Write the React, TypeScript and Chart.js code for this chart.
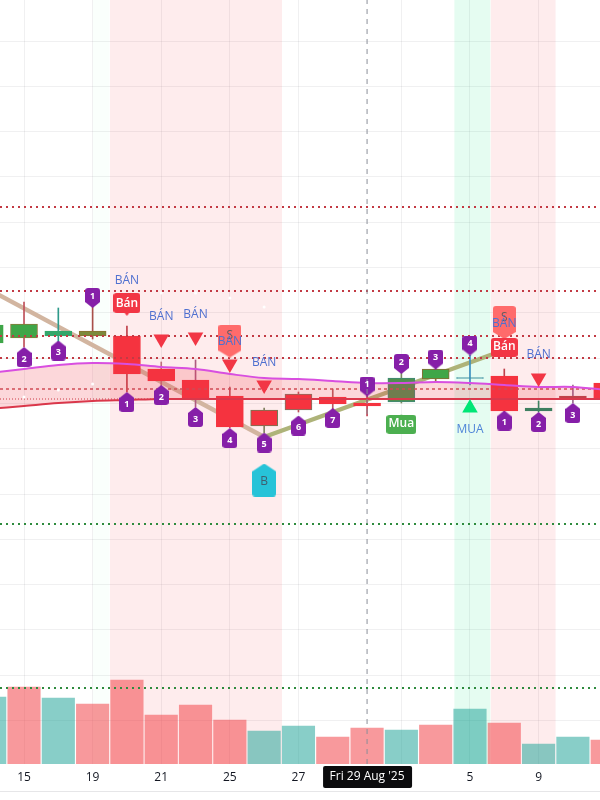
import React, { useEffect, useRef } from "react";
import { Chart, registerables } from "chart.js";

Chart.register(...registerables);

// ---- data (session index on x, price on y) ----
const sessions = [0, 1, 2, 3, 4, 5, 6, 7, 8, 9, 10, 11, 12, 13, 14, 15, 16, 17, 18];
const bodyHigh = [43.9, 44.0, 43.3, 43.3, 42.8, 39.5, 38.4, 36.8, 35.4, 37.0, 36.7, 36.1, 38.6, 39.5, 38.65, 38.8, 35.6, 36.8, 38.1];
const bodyLow = [42.1, 42.6, 42.8, 42.8, 39.0, 38.3, 36.5, 33.7, 33.8, 35.4, 36.0, 35.8, 36.2, 38.5, 38.55, 35.3, 35.3, 36.5, 36.5];
const wickHigh = [44.6, 46.2, 45.6, 45.7, 43.8, 40.2, 40.4, 37.7, 35.6, 37.2, 37.5, 36.9, 39.1, 39.7, 40.9, 39.5, 36.3, 37.9, 38.6];
const wickLow = [41.4, 41.7, 42.2, 42.5, 37.2, 37.7, 35.7, 33.6, 33.1, 35.2, 35.4, 34.8, 36.1, 38.2, 37.9, 35.2, 35.2, 36.1, 36.0];
const volume = [67, 77, 66, 60, 84, 49, 59, 44, 33, 38, 27, 36, 34, 39, 55, 41, 20, 27, 24];
const volumeUp = [true, false, true, false, false, false, false, false, true, true, false, false, true, false, true, false, true, true, false];

const emaUpper = [39.1, 39.5, 39.9, 40.1, 40.0, 39.7, 39.5, 39.0, 38.6, 38.5, 38.3, 38.1, 38.1, 38.2, 38.1, 37.9, 37.7, 37.7, 37.4];
const emaLower = [35.5, 35.8, 36.1, 36.3, 36.4, 36.5, 36.5, 36.5, 36.5, 36.5, 36.5, 36.5, 36.5, 36.5, 36.5, 36.5, 36.5, 36.5, 36.5];

const zigDownX = [0, 8];
const zigDownY = [47.4, 32.7];
const zigUpX = [8, 15];
const zigUpY = [32.7, 41.4];

const redLevels = [55.7, 47.3, 42.8, 40.6];
const dashedRedLevels = [37.5];
const thinRedLevels = [36.5];
const greenLevels = [24.0, 7.6];

const tickSessions = [1, 3, 5, 7, 9, 12, 14, 16];
const tickLabels = ["15", "19", "21", "25", "27", "", "5", "9"];
const crosshairSession = 11;
const crosshairLabel = "Fri 29 Aug '25";

const gridPrices = [72.3, 67.77, 63.24, 58.71, 54.18, 49.65, 45.12, 40.59, 36.06, 31.53, 27.0, 22.47, 17.94, 13.41, 8.88, 4.35];

const bandStart = [3, 3.5, 13.54, 14.6];
const bandEnd = [3.5, 8.52, 14.6, 16.5];
const bandColor = ["rgba(0,230,118,0.02)", "rgba(242,54,69,0.095)", "rgba(0,230,118,0.1)", "rgba(242,54,69,0.095)"];

const flagX = [1, 2, 4, 5, 6, 7, 8, 9, 10, 15, 16, 17, 3, 11, 12, 13, 14];
const flagY = [40.7, 41.35, 36.2, 36.9, 34.7, 32.6, 32.15, 33.85, 34.6, 34.35, 34.2, 35.1, 46.6, 37.75, 40.0, 40.45, 41.85];
const flagText = ["2", "3", "1", "2", "3", "4", "5", "6", "7", "1", "2", "3", "1", "1", "2", "3", "4"];
const flagPointsUp = [true, true, true, true, true, true, true, true, true, true, true, true, false, false, false, false, false];

const sellTriangleX = [5, 6, 7, 8, 16];
const sellTriangleY = [42.5, 42.7, 40.0, 37.9, 38.6];
const buyTriangleX = [14];
const buyTriangleY = [35.6];

const sellWordX = [4, 5, 6, 7, 8, 15, 16];
const sellWordY = [48.3, 44.7, 44.9, 42.2, 40.1, 44.0, 40.9];
const buyWordX = [14];
const buyWordY = [33.4];

const speckX = [5, 6, 7, 8, 3, 2, 1];
const speckY = [47.1, 47.1, 46.6, 45.7, 38.0, 37.4, 36.7];

const sBoxX = [7, 15];
const sBoxY = [42.3, 44.15];
const banBoxX = [4, 15];
const banBoxY = [45.95, 41.65];
const muaBoxX = [12];
const muaBoxY = [34.0];
const bBoxX = [8];
const bBoxY = [28.4];

// ---- styles ----
const RED = "#F5333F";
const GREEN = "#3FA648";
const bodyFill = [GREEN, GREEN, "#33A66A", "#7C8A3C", RED, RED, RED, RED, RED, RED, RED, RED, "#4F8F50", GREEN, "#3A8FA0", RED, "#3F7F60", "#B5444A", RED];
const bodyEdge = [GREEN, "#8A7A3A", "#33A66A", "#8A7030", RED, RED, RED, RED, "#6F7A55", "#777A66", RED, RED, "#3F8A78", "#8A6A30", "#3A8FA0", RED, "#3F7F60", "#B5444A", RED];
const wickColor = ["#3FA648", "#C0505A", "#2E9A8A", "#A8504A", "#C0404A", "#C0707A", "#B05A80", "#C0505A", "#808060", "#C0505A", "#B85A60", "#C04050", "#7A8A60", "#8A7030", "#3A8FC0", "#C0404A", "#3F7F60", "#9A6A90", RED];
const PRICE_MAX = 76.4;
const VOL_MAX = 764;
const X_MIN = 0.3;
const X_MAX = 17.79;

function flagShape(w: number, h: number, tip: number, color: string, up: boolean, r = 3) {
  const c = document.createElement("canvas");
  c.width = w;
  c.height = h;
  const g = c.getContext("2d")!;
  g.fillStyle = color;
  g.beginPath();
  if (up) {
    g.moveTo(w / 2, 0);
    g.lineTo(w, tip);
    g.arcTo(w, h, 0, h, r);
    g.arcTo(0, h, 0, 0, r);
    g.lineTo(0, tip);
  } else {
    g.moveTo(w / 2, h);
    g.lineTo(0, h - tip);
    g.arcTo(0, 0, w, 0, r);
    g.arcTo(w, 0, w, h, r);
    g.lineTo(w, h - tip);
  }
  g.closePath();
  g.fill();
  return c;
}

function boxPointer(w: number, h: number, tip: number, color: string, up: boolean, r = 3) {
  const c = document.createElement("canvas");
  c.width = w;
  c.height = h;
  const g = c.getContext("2d")!;
  g.fillStyle = color;
  g.beginPath();
  g.roundRect(0, up ? tip : 0, w, h - tip, r);
  g.fill();
  if (tip > 0) {
    g.beginPath();
    if (up) {
      g.moveTo(w / 2 - tip, tip + 1);
      g.lineTo(w / 2, 0);
      g.lineTo(w / 2 + tip, tip + 1);
    } else {
      g.moveTo(w / 2 - tip, h - tip - 1);
      g.lineTo(w / 2, h);
      g.lineTo(w / 2 + tip, h - tip - 1);
    }
    g.closePath();
    g.fill();
  }
  return c;
}

const zip = (xs: number[], ys: number[]) => xs.map((x, i) => ({ x, y: ys[i] }));

function level(y: number, color: string, width: number, dash: number[], order: number) {
  return {
    type: "line",
    data: [
      { x: X_MIN, y },
      { x: X_MAX, y },
    ],
    borderColor: color,
    borderWidth: width,
    borderDash: dash,
    pointRadius: 0,
    fill: false,
    order,
  };
}

function textAt(ctx: CanvasRenderingContext2D, s: string, x: number, y: number, font: string, color: string) {
  ctx.font = font;
  ctx.fillStyle = color;
  ctx.textAlign = "center";
  ctx.textBaseline = "middle";
  ctx.fillText(s, x, y);
}

const overlayText = {
  id: "overlayText",
  afterDatasetsDraw(chart: any) {
    const { ctx, scales } = chart;
    const px = (v: number) => scales.x.getPixelForValue(v);
    const py = (v: number) => scales.y.getPixelForValue(v);
    ctx.save();
    const area = chart.chartArea;
    ctx.beginPath();
    ctx.rect(area.left, area.top, area.right - area.left, area.bottom - area.top);
    ctx.clip();
    sBoxX.forEach((v, i) => textAt(ctx, "S", px(v), py(sBoxY[i]) - 5, '12px "Open Sans"', "#6a5a5a"));
    banBoxX.forEach((v, i) => textAt(ctx, "Bán", px(v), py(banBoxY[i]) - 1, '600 12px "Open Sans"', "#fff"));
    muaBoxX.forEach((v, i) => textAt(ctx, "Mua", px(v), py(muaBoxY[i]), '600 12px "Open Sans"', "#fff"));
    bBoxX.forEach((v, i) => textAt(ctx, "B", px(v), py(bBoxY[i]) + 2, '12px "Open Sans"', "#3f5f70"));
    flagX.forEach((v, i) =>
      textAt(ctx, flagText[i], px(v), py(flagY[i]) + (flagPointsUp[i] ? 2 : -2), 'bold 9px "Open Sans"', "#fff"),
    );
    sellWordX.forEach((v, i) => textAt(ctx, "BÁN", px(v), py(sellWordY[i]), '12px "Open Sans"', "#4F70D0"));
    buyWordX.forEach((v, i) => textAt(ctx, "MUA", px(v), py(buyWordY[i]), '12px "Open Sans"', "#4F85D8"));
    ctx.restore();
  },
  afterDraw(chart: any) {
    const { ctx, scales } = chart;
    const cx = scales.x.getPixelForValue(crosshairSession);
    const top = chart.chartArea.bottom + 2;
    ctx.save();
    ctx.fillStyle = "#0b0b0d";
    ctx.beginPath();
    ctx.roundRect(cx - 44, top, 89, 22, 2);
    ctx.fill();
    textAt(ctx, crosshairLabel, cx, top + 11, '12px "Open Sans"', "#fff");
    ctx.strokeStyle = "#e6e6e8";
    ctx.lineWidth = 1;
    ctx.beginPath();
    ctx.moveTo(0, 791.5);
    ctx.lineTo(600, 791.5);
    ctx.stroke();
    ctx.restore();
  },
};

export default function App() {
  const ref = useRef<HTMLCanvasElement>(null);

  useEffect(() => {
    const datasets: any[] = [];

    bandStart.forEach((s, i) => {
      datasets.push({
        type: "line",
        data: [
          { x: s, y: PRICE_MAX },
          { x: bandEnd[i], y: PRICE_MAX },
        ],
        borderWidth: 0,
        pointRadius: 0,
        fill: "origin",
        backgroundColor: bandColor[i],
        order: 100,
      });
    });

    datasets.push({
      type: "bar",
      yAxisID: "vol",
      data: zip(sessions, volume),
      backgroundColor: volumeUp.map((u) => (u ? "rgba(38,166,154,0.55)" : "rgba(242,70,75,0.55)")),
      barThickness: 32.5,
      grouped: false,
      order: 90,
    });

    redLevels.forEach((y) => datasets.push(level(y, "#C23A44", 2, [2, 4], 35)));
    dashedRedLevels.forEach((y) => datasets.push(level(y, "#C8505A", 1.5, [3, 3], 35)));
    thinRedLevels.forEach((y) => datasets.push(level(y, "#C23A44", 1, [1, 2], 35)));
    greenLevels.forEach((y) => datasets.push(level(y, "#2E8B3E", 2, [2, 4], 35)));

    datasets.push({
      type: "line",
      data: zip(zigDownX, zigDownY),
      borderColor: "#D2B5A0",
      borderWidth: 4.5,
      pointRadius: 0,
      fill: false,
      order: 50,
    });
    datasets.push({
      type: "line",
      data: zip(zigUpX, zigUpY),
      borderColor: "#AEB379",
      borderWidth: 4.5,
      pointRadius: 0,
      fill: false,
      order: 50,
    });

    datasets.push({
      type: "bar",
      data: sessions.map((x, i) => ({ x, y: [wickLow[i], wickHigh[i]] })),
      backgroundColor: wickColor,
      barThickness: 1,
      grouped: false,
      order: 45,
    });
    datasets.push({
      type: "bar",
      data: sessions.map((x, i) => ({ x, y: [bodyLow[i], bodyHigh[i]] })),
      backgroundColor: bodyFill,
      borderColor: bodyEdge,
      borderWidth: 1,
      borderSkipped: false,
      barThickness: 27,
      grouped: false,
      order: 40,
    });

    // The two averages are neighbours in this list: the upper one fills down to the lower one.
    datasets.push({
      type: "line",
      data: zip(sessions, emaUpper),
      borderColor: "#D84FE0",
      borderWidth: 2,
      tension: 0.35,
      pointRadius: 0,
      fill: "+1",
      backgroundColor: "rgba(242,54,69,0.2)",
      order: 30,
    });
    datasets.push({
      type: "line",
      data: zip(sessions, emaLower),
      borderColor: "#D8384C",
      borderWidth: 2,
      tension: 0.35,
      pointRadius: 0,
      fill: false,
      order: 30,
    });

    datasets.push({
      type: "scatter",
      data: zip(speckX, speckY),
      pointBackgroundColor: "#fff",
      pointBorderWidth: 0,
      pointRadius: 1.5,
      order: 29,
    });

    const boxLayer = (xs: number[], ys: number[], img: HTMLCanvasElement, order: number) => ({
      type: "scatter",
      data: zip(xs, ys),
      pointStyle: img,
      order,
    });
    datasets.push(boxLayer(sBoxX, sBoxY, flagShape(23, 33, 7, "#FF6B6B", false), 28));
    datasets.push(boxLayer(banBoxX.slice(0, 1), banBoxY.slice(0, 1), boxPointer(27, 23, 3, "#F23645", false), 26));
    datasets.push(boxLayer(banBoxX.slice(1), banBoxY.slice(1), boxPointer(27, 19, 0, "#F23645", false), 26));
    datasets.push(boxLayer(muaBoxX, muaBoxY, boxPointer(30, 20, 1, "#4CAF50", true), 26));
    datasets.push(boxLayer(bBoxX, bBoxY, flagShape(24, 33, 8, "#27C3D8", true), 26));

    datasets.push({
      type: "scatter",
      data: zip(sellTriangleX, sellTriangleY),
      pointStyle: "triangle",
      rotation: 180,
      pointRadius: 9,
      pointBackgroundColor: "#F23645",
      pointBorderWidth: 0,
      order: 20,
    });
    datasets.push({
      type: "scatter",
      data: zip(buyTriangleX, buyTriangleY),
      pointStyle: "triangle",
      pointRadius: 9,
      pointBackgroundColor: "#00E676",
      pointBorderWidth: 0,
      order: 20,
    });

    const flagUp = flagShape(15, 20, 6, "#861FA8", true);
    const flagDown = flagShape(15, 20, 6, "#861FA8", false);
    datasets.push({
      type: "scatter",
      data: zip(flagX, flagY),
      pointStyle: flagPointsUp.map((u) => (u ? flagUp : flagDown)),
      order: 10,
    });

    datasets.push({
      type: "line",
      data: [
        { x: crosshairSession, y: 0 },
        { x: crosshairSession, y: PRICE_MAX },
      ],
      borderColor: "#8A8E99",
      borderWidth: 1,
      borderDash: [5, 5],
      pointRadius: 0,
      fill: false,
      order: 5,
    });

    const chart = new Chart(ref.current!, {
      type: "bar",
      data: { datasets },
      plugins: [overlayText],
      options: {
        animation: false,
        responsive: false,
        devicePixelRatio: 1,
        events: [],
        layout: { padding: 0, autoPadding: false },
        plugins: { legend: { display: false }, tooltip: { enabled: false } },
        scales: {
          x: {
            type: "linear",
            min: X_MIN,
            max: X_MAX,
            offset: false,
            border: { display: false },
            grid: { offset: false, color: "rgba(42,46,57,0.07)", drawTicks: false },
            afterBuildTicks: (s: any) => {
              s.ticks = tickSessions.map((value) => ({ value }));
            },
            afterFit: (s: any) => {
              s.height = 36;
            },
            ticks: {
              autoSkip: false,
              maxRotation: 0,
              padding: 6,
              color: "#131722",
              font: { family: '"Open Sans"', size: 12 },
              callback: (v: any) => tickLabels[tickSessions.indexOf(Number(v))] ?? "",
            },
          },
          y: {
            type: "linear",
            min: 0,
            max: PRICE_MAX,
            border: { display: false },
            grid: { color: "rgba(42,46,57,0.07)", drawTicks: false },
            afterBuildTicks: (s: any) => {
              s.ticks = gridPrices.map((value) => ({ value }));
            },
            afterFit: (s: any) => {
              s.width = 0;
            },
            ticks: { display: false },
          },
          vol: {
            type: "linear",
            display: false,
            min: 0,
            max: VOL_MAX,
          },
        },
      },
    } as any);
    return () => chart.destroy();
  }, []);

  return (
    <canvas
      ref={ref}
      width={600}
      height={800}
      style={{ position: "fixed", left: 0, top: 0, width: 600, height: 800, display: "block" }}
    />
  );
}
